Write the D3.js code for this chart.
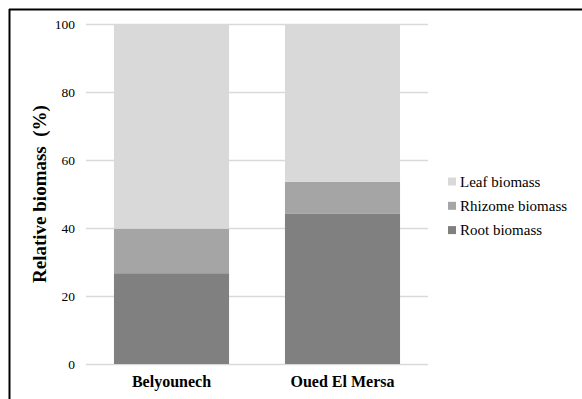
<!DOCTYPE html>
<html><head><meta charset="utf-8">
<script src="https://cdn.jsdelivr.net/npm/d3@7"></script>
<style>body{margin:0;background:#fff}svg{display:block}svg text{font-family:"Liberation Serif","Times New Roman",Times,serif !important}</style>
</head><body>
<svg id="c" width="582" height="399"></svg>
<script>
const categories = ["Belyounech", "Oued El Mersa"];
const seriesNames = ["Root biomass", "Rhizome biomass", "Leaf biomass"];
const rootValues = [26.7, 44.3];
const rhizomeValues = [13.1, 9.3];
const leafValues = [60.2, 46.4];
const yTicks = [0, 20, 40, 60, 80, 100];
const colors = ["#808080", "#a5a5a5", "#d9d9d9"];

const svg = d3.select("#c");
const m = {left: 86, right: 428, top: 24, bottom: 364};

// frame
svg.append("line").attr("x1", 9).attr("x2", 582).attr("y1", 9.5).attr("y2", 9.5).attr("stroke", "#000").attr("stroke-width", 2);
svg.append("line").attr("x1", 9.5).attr("x2", 9.5).attr("y1", 9).attr("y2", 399).attr("stroke", "#000").attr("stroke-width", 2);

const x = d3.scaleBand().domain(categories).range([m.left, m.right]).paddingInner(0.327).paddingOuter(0.1635);
const y = d3.scaleLinear().domain([0, 100]).range([m.bottom, m.top]);

// grid
svg.append("g").selectAll("line").data(yTicks).join("line")
  .attr("x1", m.left).attr("x2", m.right)
  .attr("y1", d => Math.round(y(d)) + 0.5).attr("y2", d => Math.round(y(d)) + 0.5)
  .attr("stroke", "#d9d9d9").attr("stroke-width", 1.3);

// y axis labels
const yAxis = d3.axisLeft(y).tickValues(yTicks).tickSize(0).tickPadding(0);
const ga = svg.append("g").attr("transform", `translate(${m.left - 11},0)`).call(yAxis);
ga.select(".domain").remove();
ga.selectAll("text").style("font-size", "13.5px").attr("fill", "#000");

// stacked data
const rows = categories.map((c, i) => ({cat: c, "Root biomass": rootValues[i], "Rhizome biomass": rhizomeValues[i], "Leaf biomass": leafValues[i]}));
const stack = d3.stack().keys(seriesNames)(rows);
svg.append("g").selectAll("g").data(stack).join("g")
  .attr("fill", (d, i) => colors[i])
  .selectAll("rect").data(d => d).join("rect")
  .attr("x", d => x(d.data.cat)).attr("width", x.bandwidth())
  .attr("y", d => y(d[1])).attr("height", d => y(d[0]) - y(d[1]));

// x labels
const xAxis = d3.axisBottom(x).tickSize(0).tickPadding(0);
const gx = svg.append("g").attr("transform", `translate(0,${m.bottom + 12})`).call(xAxis);
gx.select(".domain").remove();
gx.selectAll("text").style("font-size", "16px").style("font-weight", "bold").attr("fill", "#000");

// y title
svg.append("text").attr("transform", "translate(46,194) rotate(-90)")
  .attr("text-anchor", "middle").style("font-size", "19px").style("font-weight", "bold")
  .attr("fill", "#000").style("white-space", "pre").text("Relative biomass  (%)");

// legend
const legendOrder = ["Leaf biomass", "Rhizome biomass", "Root biomass"];
const lg = svg.append("g").selectAll("g").data(legendOrder).join("g")
  .attr("transform", (d, i) => `translate(448,${181 + i * 24.3})`);
lg.append("rect").attr("x", 0).attr("y", -3.5).attr("width", 8).attr("height", 8)
  .attr("fill", d => colors[seriesNames.indexOf(d)]);
lg.append("text").attr("x", 12).attr("y", 5.5).style("font-size", "15px")
  .attr("fill", "#000").text(d => d);
</script>
</body></html>
